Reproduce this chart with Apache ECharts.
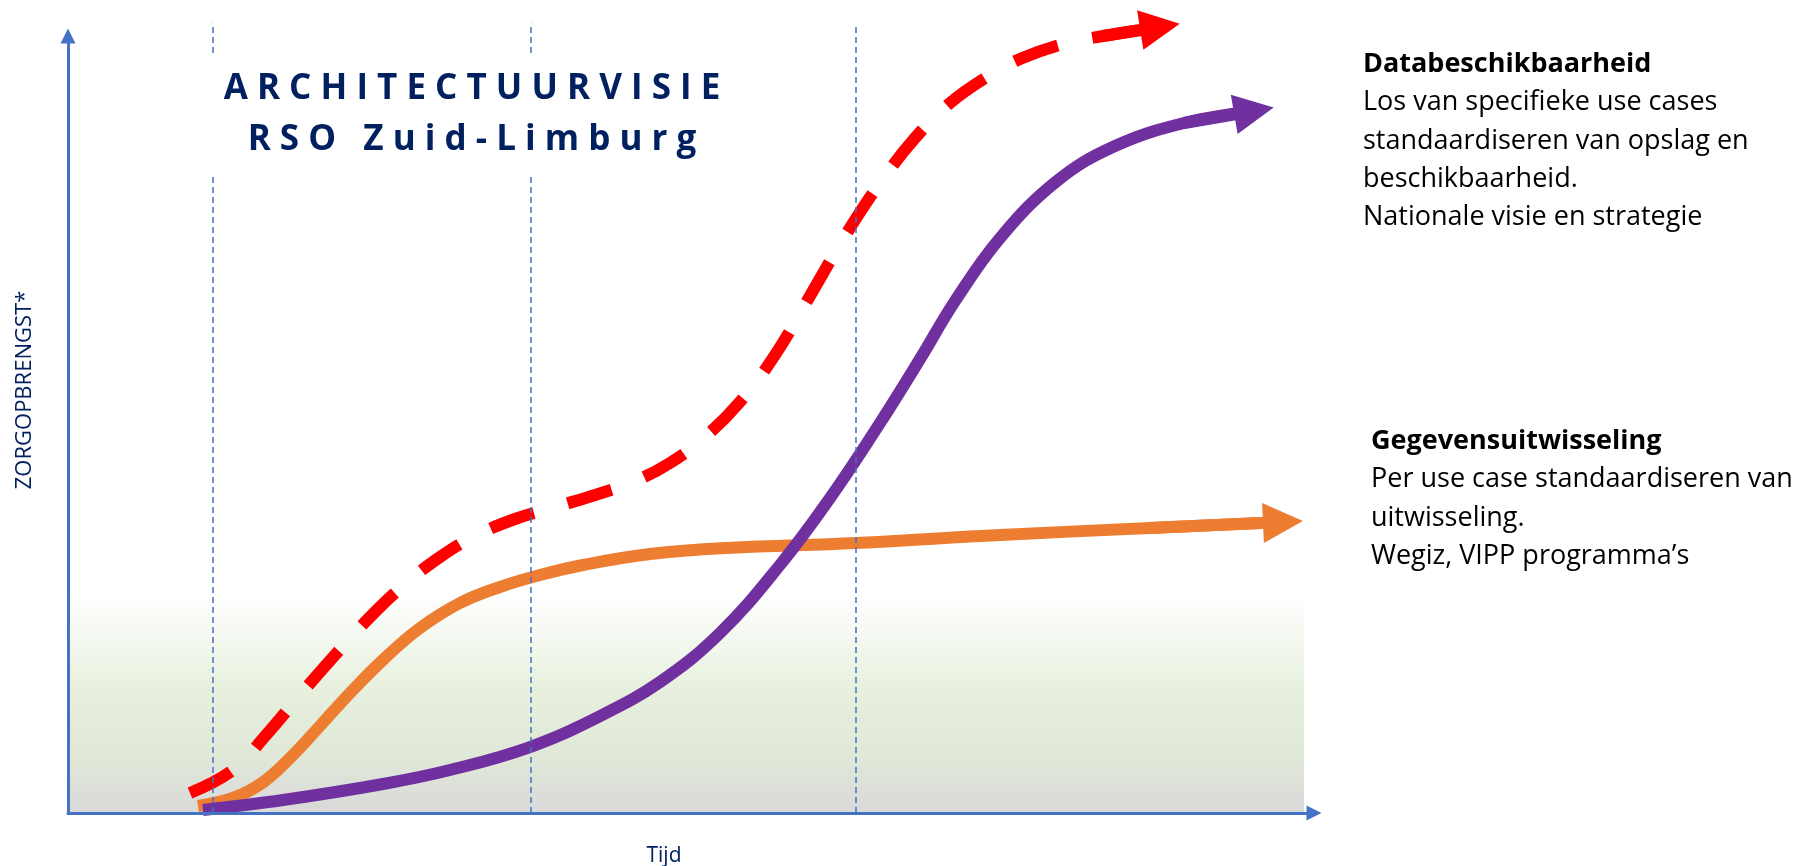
<!DOCTYPE html>
<html>
<head>
<meta charset="utf-8">
<script src="https://cdn.jsdelivr.net/npm/echarts@6/dist/echarts.min.js"></script>
<style>
html,body{margin:0;padding:0;background:#ffffff;}
#c{width:1802px;height:866px;}
</style>
</head>
<body>
<div id="c"></div>
<script>
// ---- data (time 0-100, value 0-100) ----
const purpleX = [10.83,17.26,25.28,30.66,37.08,42.70,47.51,52.33,57.14,61.16,65.17,68.38,71.19,74.80,79.37,84.03,89.57,95.18];
const purpleY = [0.39,1.67,3.73,5.53,8.49,12.48,16.86,23.17,31.92,40.54,50.19,58.43,65.89,74.00,81.34,85.84,88.80,90.35];

const orangeX = [10.43,13.24,15.57,17.82,20.22,22.63,25.44,28.25,31.46,34.67,37.88,41.33,46.71,52.89,63.24,74.80,86.84,97.51];
const orangeY = [0.90,1.93,3.86,7.08,11.20,15.44,19.95,23.81,27.03,29.09,30.63,31.92,33.33,34.11,34.75,35.78,36.68,37.45];

const redX = [9.79,13.24,15.97,18.62,21.43,24.24,27.05,29.86,32.66,35.87,39.09,42.30,45.51,48.31,51.12,53.93,56.74,59.55,62.36,65.17,67.98,70.79,73.60,76.40,79.86,83.07,87.64];
const redY = [2.57,5.53,10.17,15.19,20.33,25.23,29.47,32.95,35.65,37.84,39.38,40.93,42.73,45.05,48.39,52.90,58.94,66.54,74.26,81.08,86.87,91.38,94.59,97.04,98.97,100.00,101.16];

const phaseX = [11.6, 37.1, 63.2];
const phaseTop = 101.7;
const greenRight = 99.2;
const greenTop = 28.3;

const titleLines = ['ARCHITECTUURVISIE', 'RSO Zuid-Limburg'];
const yName = 'ZORGOPBRENGST*';
const xName = 'Tijd';
const blockData = ['Databeschikbaarheid', 'Los van specifieke use cases', 'standaardiseren van opslag en', 'beschikbaarheid.', 'Nationale visie en strategie'];
const blockExchange = ['Gegevensuitwisseling', 'Per use case standaardiseren van', 'uitwisseling.', 'Wegiz, VIPP programma\u2019s'];

// ---- helpers ----
const FONT = "'Open Sans', 'Noto Sans', sans-serif";
const AXIS_BLUE = '#4472C4';
const NAVY = '#002060';
function pairs(xs, ys) { return xs.map((x, i) => [x, ys[i]]); }
function arrowSeg(pts) { const n = pts.length; return [[{ coord: pts[n - 2] }, { coord: pts[n - 1] }]]; }

function curve(name, pts, color, dash) {
  return {
    type: 'line', name: name, xAxisIndex: 1, yAxisIndex: 1,
    data: pts, smooth: 0.4, symbol: 'none', showSymbol: false, clip: false, z: 3, silent: true,
    lineStyle: { color: color, width: 12, type: dash || 'solid', cap: 'butt', join: 'round' },
    markLine: {
      silent: true, symbol: ['none', 'triangle'], symbolSize: [40, 40],
      label: { show: false }, emphasis: { disabled: true },
      lineStyle: { color: color, width: 12, type: 'solid', opacity: 1, cap: 'butt' },
      data: arrowSeg(pts)
    }
  };
}

const purple = pairs(purpleX, purpleY);
const orange = pairs(orangeX, orangeY);
const red = pairs(redX, redY);

const gW = 1246, gLeft = 68;
const unitY = 7.77;

const graphics = [];
graphics.push({ type: 'rect', z: 10, silent: true, shape: { x: 200, y: 53, width: 545, height: 124 }, style: { fill: '#ffffff' } });
titleLines.forEach((t, i) => {
  graphics.push({
    type: 'text', z: 11, silent: true, x: 472, y: i === 0 ? 89 : 140.5,
    style: { text: t.split('').join(' '), fill: NAVY, fontFamily: FONT, fontSize: 35, fontWeight: 'bold',
      align: 'center', verticalAlign: 'middle', textAlign: 'center', textVerticalAlign: 'middle' }
  });
});
blockData.forEach((t, i) => {
  graphics.push({
    type: 'text', z: 11, silent: true, x: 1363, y: 64.5 + i * 38.3,
    style: { text: t, fill: '#000000', fontFamily: FONT, fontSize: 27, fontWeight: i === 0 ? 'bold' : 'normal',
      align: 'left', verticalAlign: 'middle', textAlign: 'left', textVerticalAlign: 'middle' }
  });
});
blockExchange.forEach((t, i) => {
  graphics.push({
    type: 'text', z: 11, silent: true, x: 1371, y: 441 + i * 38.5,
    style: { text: t, fill: '#000000', fontFamily: FONT, fontSize: 27, fontWeight: i === 0 ? 'bold' : 'normal',
      align: 'left', verticalAlign: 'middle', textAlign: 'left', textVerticalAlign: 'middle' }
  });
});
graphics.push({
  type: 'text', z: 11, silent: true, x: 25, y: 390, rotation: Math.PI / 2,
  style: { text: yName, fill: NAVY, fontFamily: FONT, fontSize: 22,
    align: 'center', verticalAlign: 'middle', textAlign: 'center', textVerticalAlign: 'middle' }
});
graphics.push({
  type: 'text', z: 11, silent: true, x: 664, y: 856,
  style: { text: xName, fill: NAVY, fontFamily: FONT, fontSize: 21,
    align: 'center', verticalAlign: 'middle', textAlign: 'center', textVerticalAlign: 'middle' }
});

const axisCommon = {
  axisTick: { show: false }, axisLabel: { show: false }, splitLine: { show: false }
};

const option = {
  animation: false,
  backgroundColor: '#ffffff',
  grid: [
    { left: gLeft, top: 36, width: gW, height: 777, containLabel: false, outerBoundsMode: 'none', show: false },
    { left: gLeft, top: 813 - 102 * unitY, width: gW, height: 102 * unitY, containLabel: false, outerBoundsMode: 'none', show: false }
  ],
  xAxis: [
    Object.assign({ type: 'value', gridIndex: 0, min: 0, max: 100, z: 6,
      axisLine: { show: true, onZero: false, symbol: ['none', 'triangle'], symbolSize: [15, 15], lineStyle: { color: AXIS_BLUE, width: 3 } } }, axisCommon),
    Object.assign({ type: 'value', gridIndex: 1, min: 0, max: 100, show: false }, axisCommon)
  ],
  yAxis: [
    Object.assign({ type: 'value', gridIndex: 0, min: 0, max: 100, z: 6,
      axisLine: { show: true, onZero: false, symbol: ['none', 'triangle'], symbolSize: [15, 15], lineStyle: { color: AXIS_BLUE, width: 3 } } }, axisCommon),
    Object.assign({ type: 'value', gridIndex: 1, min: 0, max: 102, show: false }, axisCommon)
  ],
  graphic: { elements: graphics },
  series: [
    {
      type: 'line', name: 'bg', xAxisIndex: 1, yAxisIndex: 1, data: [], z: 1, silent: true, clip: false, symbol: 'none',
      markArea: {
        silent: true, label: { show: false },
        itemStyle: {
          color: new echarts.graphic.LinearGradient(0, 0, 0, 1, [
            { offset: 0, color: '#ffffff' },
            { offset: 0.45, color: '#e6f0dd' },
            { offset: 0.75, color: '#e0e8d8' },
            { offset: 1, color: '#d9d9d9' }
          ])
        },
        data: [[{ coord: [0, 0] }, { coord: [greenRight, greenTop] }]]
      },
      markLine: {
        silent: true, symbol: ['none', 'none'], label: { show: false },
        lineStyle: { color: AXIS_BLUE, width: 1.5, type: [6, 4] },
        data: phaseX.map(x => [{ coord: [x, 0] }, { coord: [x, phaseTop] }])
      }
    },
    curve('Gegevensuitwisseling', orange, '#ED7D31'),
    curve('Zorgopbrengst', purple, '#7030A0'),
    curve('Databeschikbaarheid', red, '#FF0000', [46, 35])
  ]
};

const chart = echarts.init(document.getElementById('c'), null, { renderer: 'canvas', width: 1802, height: 866 });
chart.setOption(option);
</script>
</body>
</html>
